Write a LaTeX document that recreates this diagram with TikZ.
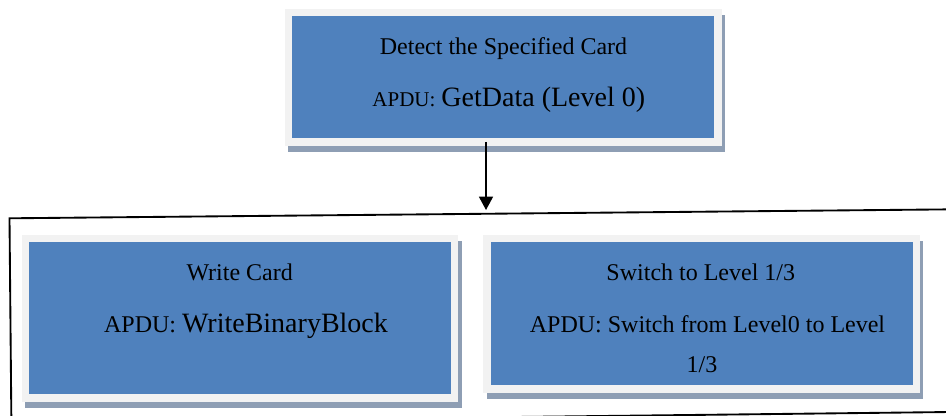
\documentclass[tikz,border=0pt]{standalone}
\usepackage{fontspec}
\setmainfont{Liberation Serif}
\usetikzlibrary{arrows.meta}

\definecolor{cardblue}{HTML}{4F81BD}
\definecolor{cardframe}{HTML}{F2F2F2}
\definecolor{cardshadow}{HTML}{8E9EB4}

\newcommand{\apdusize}{\fontsize{15.75}{19}\selectfont}
\newcommand{\cmdsize}{\fontsize{21}{25}\selectfont}

\begin{document}
\begin{tikzpicture}[x=0.75pt, y=-0.75pt,
		cardbox/.style={rectangle, fill=cardblue, draw=cardframe, line width=5.6pt,
			minimum width=322pt, inner sep=0pt, outer sep=0pt,
			preaction={fill=cardshadow, draw=cardshadow, line width=5.6pt,
				transform canvas={shift={(2.5pt,-4.9pt)}}}},
		cardtext/.style={anchor=base, inner sep=0pt, font=\fontsize{18}{21}\selectfont},
		flow/.style={line width=1.1pt, -{Triangle[length=10pt, width=10.5pt]}}]

			\useasboundingbox (0,0) rectangle (946,416);
			\clip (0,0) rectangle (946,416);

			\draw[line width=1.4pt] (9.5,218.3) -- (1009.5,208.8) -- (1011.4,411.3) -- (11.4,422.8) -- cycle;

			\node[cardbox, minimum height=97pt] (detect) at (503.4,77.3) {};
			\node[cardbox, minimum height=119.8pt] (write) at (240,318.2) {};
			\node[cardbox, minimum height=113pt] (switch) at (701.7,313.7) {};

			\node[cardtext] (detecttitle) at (503.5,55) {Detect the Specified Card};
			\node[cardtext] (detectapdu) at (508.8,106.7) {{\apdusize APDU:} {\cmdsize GetData (Level 0)}};

			\node[cardtext] (writetitle) at (239.7,280.7) {Write Card};
			\node[cardtext] (writeapdu) at (246,332.7) {APDU: {\cmdsize WriteBinaryBlock}};

			\node[cardtext] (switchtitle) at (700.8,280.7) {Switch to Level 1/3};
			\node[cardtext] (switchapdu) at (707.5,332.7) {APDU: Switch from Level0 to Level};
			\node[cardtext] (switchlevel) at (702,372.7) {1/3};

			\coordinate (gate) at (486,210);
			\draw[flow] (detect.south -| gate) -- (gate);

\end{tikzpicture}
\end{document}
